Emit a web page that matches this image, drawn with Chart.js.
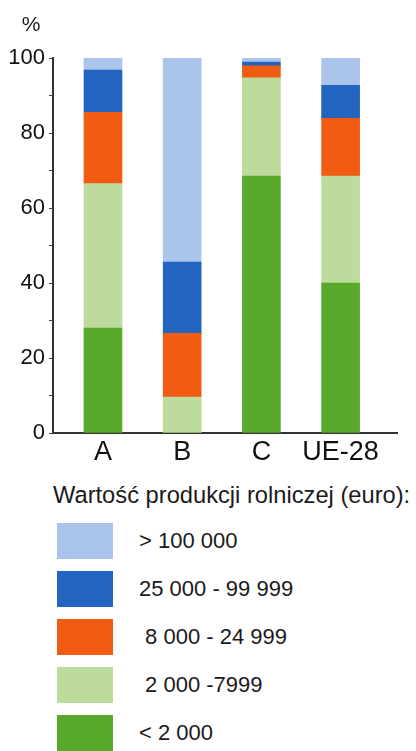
<!DOCTYPE html>
<html><head><meta charset="utf-8">
<script src="https://cdn.jsdelivr.net/npm/chart.js@4/dist/chart.umd.min.js"></script>
<style>
body{margin:0;background:#fff;width:416px;height:751px;overflow:hidden;font-family:"Liberation Sans",Arial,sans-serif;color:#1a1a1a;}
#wrap{position:absolute;left:0;top:0;width:416px;height:470px;}
#legendTitle{position:absolute;left:53px;top:484px;font-size:23.7px;line-height:23px;white-space:nowrap;}
.item{position:absolute;left:57px;height:36px;display:flex;align-items:center;}
.box{width:56px;height:36px;}
.lbl{margin-left:26px;font-size:22px;white-space:pre;}
</style>
</head><body>
<div id="wrap"><canvas id="c" width="416" height="470"></canvas></div>
<div id="legendTitle">Wartość produkcji rolniczej (euro):</div>
<div id="legend"></div>
<script>
const categories = ['A', 'B', 'C', 'UE-28'];
const seriesNames = ['< 2 000', ' 2 000 -7999', ' 8 000 - 24 999', '25 000 - 99 999', '> 100 000'];
const seriesColors = ['#59a92a', '#bddb9c', '#f25b12', '#2264bf', '#aac4ec'];
const lt2000 = [28, 0, 68.5, 40];
const from2000to7999 = [38.5, 9.6, 26.2, 28.5];
const from8000to24999 = [19, 17, 3.2, 15.4];
const from25000to99999 = [11.3, 19, 1.0, 8.8];
const gt100000 = [3.2, 54.4, 1.1, 7.3];
const yTickLabels = [0, 20, 40, 60, 80, 100];
const unitLabel = '%';

const seriesValues = [lt2000, from2000to7999, from8000to24999, from25000to99999, gt100000];
const FONT = '"Liberation Sans", Arial, sans-serif';

const unitPlugin = {
  id: 'unit',
  afterDraw(chart) {
    const ctx = chart.ctx;
    ctx.save();
    ctx.font = '21px ' + FONT;
    ctx.fillStyle = '#1a1a1a';
    ctx.textAlign = 'center';
    ctx.textBaseline = 'middle';
    ctx.fillText(unitLabel, 31, 25);
    ctx.restore();
  }
};

new Chart(document.getElementById('c'), {
  type: 'bar',
  data: {
    datasets: seriesValues.map((vals, k) => ({
      label: seriesNames[k],
      data: vals.map((v, i) => ({ x: i, y: v })),
      backgroundColor: seriesColors[k],
      borderWidth: 0,
      barThickness: 38
    }))
  },
  options: {
    responsive: false,
    animation: false,
    layout: { padding: { top: 58, right: 19, left: 0, bottom: 0 } },
    plugins: { legend: { display: false }, tooltip: { enabled: false } },
    scales: {
      x: {
        type: 'linear',
        stacked: true,
        offset: false,
        min: -0.631,
        max: 3.712,
        afterFit(s) { s.height = 37; },
        afterBuildTicks(s) { s.ticks = categories.map((c, i) => ({ value: i })); },
        ticks: {
          autoSkip: false, maxRotation: 0,
          callback: v => categories[v] !== undefined ? categories[v] : '',
          font: { size: 27, family: FONT }, color: '#111', padding: 3
        },
        grid: { display: false, drawTicks: false, offset: false },
        border: { display: true, color: '#333', width: 2 }
      },
      y: {
        stacked: true,
        min: 0, max: 100,
        afterFit(s) { s.width = 53; },
        ticks: {
          stepSize: 10, autoSkip: false,
          callback: v => yTickLabels.includes(v) ? String(v) : '',
          font: { size: 22, family: FONT }, color: '#111', padding: 4
        },
        grid: { drawOnChartArea: false, drawTicks: true, tickLength: 4, color: '#444', lineWidth: 1 },
        border: { display: true, color: '#333', width: 2 }
      }
    }
  },
  plugins: [unitPlugin]
});

const legend = document.getElementById('legend');
for (let k = seriesNames.length - 1, row = 0; k >= 0; k--, row++) {
  const item = document.createElement('div');
  item.className = 'item';
  item.style.top = (523 + row * 48) + 'px';
  const box = document.createElement('div');
  box.className = 'box';
  box.style.background = seriesColors[k];
  const lbl = document.createElement('span');
  lbl.className = 'lbl';
  lbl.textContent = seriesNames[k];
  item.appendChild(box); item.appendChild(lbl);
  legend.appendChild(item);
}
</script>
</body></html>
